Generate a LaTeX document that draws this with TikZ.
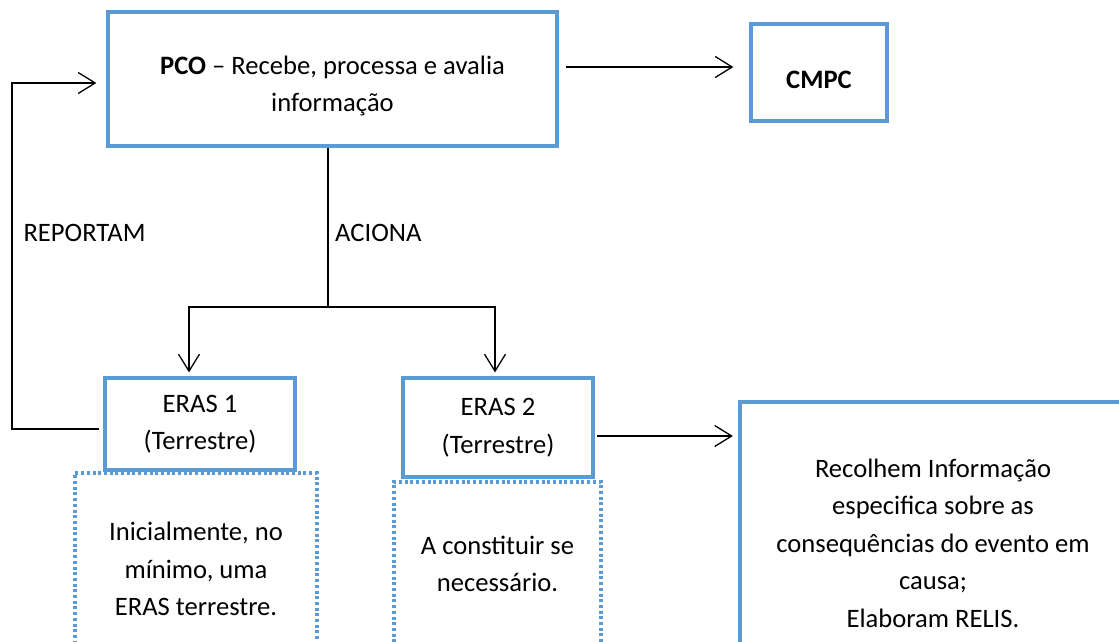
\documentclass[tikz,border=0pt]{standalone}
\usepackage{fontspec}
\setmainfont{Carlito}
\usetikzlibrary{positioning,calc}
\usetikzlibrary{arrows.meta}
\definecolor{wordblue}{RGB}{91,155,213}

\begin{document}
\begin{tikzpicture}[x=1pt,y=-1pt,
         txt/.style = {font=\fontsize{26.6pt}{37.5pt}\selectfont, align=center,
         inner sep=0pt},
         bluebox/.style = {draw=wordblue, line width=3.2pt, inner sep=0pt, txt},
         dotbox/.style = {draw=wordblue, line width=3.3pt,
         dash pattern=on 3pt off 2.7pt, inner sep=0pt, txt},
         link/.style = {draw, line width=1.3pt},
         arr/.style = {link, -{Straight Barb[length=17pt,width=21pt]}}
]
      \clip (0,0) rectangle (1119,642);

      % top row
      \node[bluebox, minimum width=449pt, minimum height=134pt] (pco) at (332.5,79) {};
      \node[txt] (pcotxt) at ([yshift=-7pt]pco.center)
         {\textbf{PCO} – Recebe, processa e avalia\\informação};
      \node[bluebox, minimum width=136pt, minimum height=97pt] (cmpc) at (819,72.5) {};
      \node[txt] (cmpctxt) at ([yshift=-7.5pt]cmpc.center) {\textbf{CMPC}};

      % ERAS teams
      \node[bluebox, minimum width=190pt, minimum height=92pt] (eras1) at (200,424)
         {ERAS 1\\(Terrestre)};
      \node[bluebox, minimum width=190pt, minimum height=99pt] (eras2) at (498,427.5)
         {ERAS 2\\(Terrestre)};

      % notes below the teams
      \node[dotbox, minimum width=242pt, minimum height=192pt] (note1) at (196,569)
         {Inicialmente, no\\mínimo, uma\\ERAS terrestre.};
      \node[dotbox, minimum width=207pt, minimum height=164pt] (note2) at (497.5,564)
         {A constituir se\\necessário.};
      \node[bluebox, minimum width=386pt, minimum height=282pt] (relis) at (933,543)
         {Recolhem Informação\\especifica sobre as\\consequências do evento em\\causa;\\Elaboram RELIS.};

      % labels
      \node[txt] (reportam) at (84.5,233) {REPORTAM};
      \node[txt, anchor=west] (aciona) at (335,233) {ACIONA};

      % connectors
      \coordinate (pout) at ([yshift=12pt]pco.east);
      \draw[arr, shorten <=7pt, shorten >=16pt] (pout) -- (pout -| cmpc.west);

      \coordinate (split) at (328,307);
      \draw[link] ([xshift=-4.5pt]pco.south) -- (split);
      \draw[arr, shorten >=4pt] (split) -| ([xshift=-11pt]eras1.north);
      \draw[arr, shorten >=4pt] (split) -| ([xshift=-3pt]eras2.north);

      \coordinate (loop) at (12,83);
      \draw[arr, shorten <=4pt, shorten >=10pt] ([yshift=-5pt]eras1.west) -| (loop)
         -- ([yshift=-4pt]pco.west);

      \coordinate (e2out) at ([yshift=-8.5pt]eras2.east);
      \draw[arr, shorten <=2.5pt, shorten >=5.5pt] (e2out) -- (e2out -| relis.west);
\end{tikzpicture}
\end{document}
